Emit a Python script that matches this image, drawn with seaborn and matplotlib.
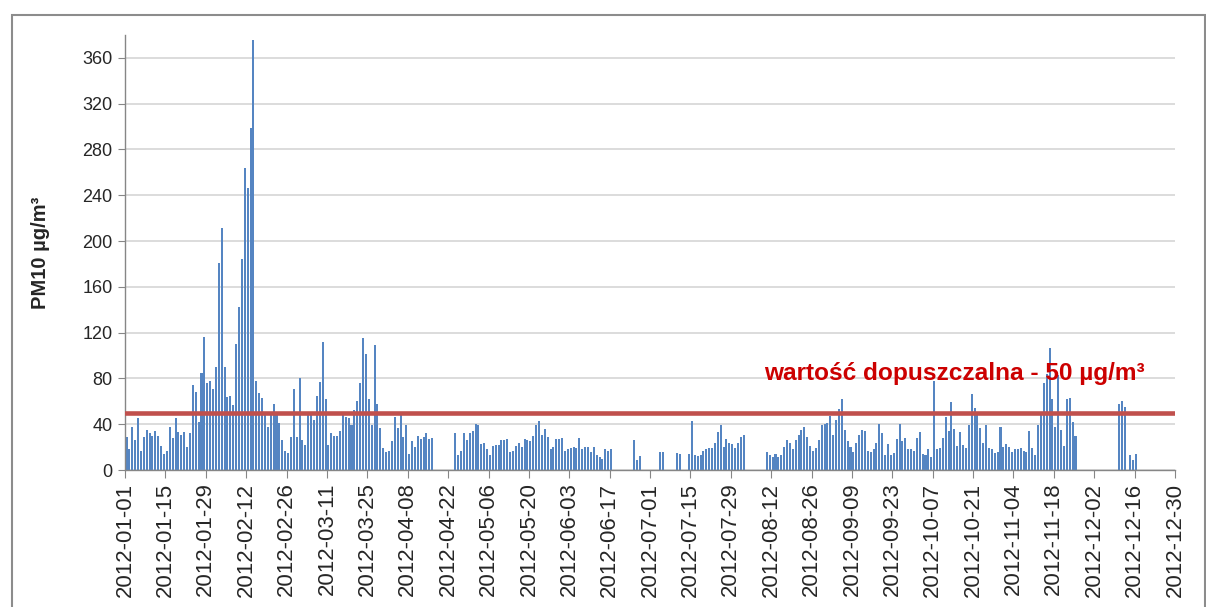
import numpy as np
import pandas as pd
import matplotlib
matplotlib.use("Agg")
import matplotlib.pyplot as plt
import seaborn as sns
from matplotlib.patches import Rectangle

N = None

# daily PM10 values [ug/m3], 2012, None = no measurement
jan = [29, 18, 38, 26, 45, 17, 29, 35, 32, 30, 34, 30, 21, 14, 17, 38, 28, 45, 33, 31,
       33, 20, 32, 74, 68, 42, 85, 116, 76, 78, 71]
feb = [90, 181, 211, 90, 64, 65, 57, 110, 142, 184, 264, 246, 299, 376, 78, 67, 63, 50, 38, 48,
       58, 48, 41, 26, 17, 15, 29, 71, 29]
mar = [80, 26, 22, 48, 48, 44, 65, 77, 112, 62, 22, 32, 30, 30, 34, 48, 46, 45, 39, 52,
       60, 76, 115, 101, 62, 39, 109, 58, 37, 19, 16]
apr = [17, 25, 46, 37, 48, 29, 39, 14, 25, 20, 30, 27, 29, 32, 27, 28, N, N, N, N,
       N, N, N, 32, 13, 17, 32, 26, 32, 34]
may = [40, 39, 23, 24, 18, 13, 21, 22, 22, 26, 26, 27, 16, 17, 21, 24, 20, 27, 26, 25,
       30, 39, 43, 31, 36, 29, 18, 20, 27, 27, 28]
jun = [17, 18, 19, 20, 19, 28, 18, 20, 20, 16, 20, 13, 11, 10, 18, 17, 18, N, N, N,
       N, N, N, N, 26, 9, 12, N, N, N]
jul = [N, N, N, 16, 16, N, N, N, N, 15, 14, N, N, 14, 43, 13, 12, 13, 17, 18,
       19, 19, 24, 33, 39, 20, 27, 24, 23, 19, 24]
aug = [29, 31, N, N, N, N, N, N, N, 16, 13, 11, 14, 11, 13, 20, 26, 24, 18, 26,
       31, 35, 38, 29, 21, 17, 19, 26, 39, 40, 41]
sep = [47, 31, 44, 53, 62, 35, 25, 20, 16, 24, 31, 35, 34, 17, 16, 18, 24, 40, 32, 13,
       23, 13, 15, 27, 40, 25, 28, 18, 18, 17]
oct_ = [28, 33, 14, 13, 18, 11, 78, 18, 19, 28, 46, 34, 59, 36, 21, 33, 22, 19, 39, 66,
        54, 48, 37, 24, 39, 19, 18, 15, 16, 38, 20]
nov = [23, 20, 16, 18, 18, 19, 17, 16, 34, 19, 13, 39, 48, 76, 84, 107, 62, 38, 83, 35,
       21, 62, 63, 42, 30, N, N, N, N, N]
dec = [N, N, N, N, N, N, N, N, N, 58, 60, 55, N, 13, 9, 14, N, N, N, N,
       N, N, N, N, N, N, N, N, N, N, N]

limit = 50
limit_label = "wartość dopuszczalna - 50 µg/m³"
y_label = "PM10 µg/m³"
tick_labels = pd.date_range("2012-01-01", "2012-12-30", freq="14D").strftime("%Y-%m-%d")

pm10 = jan + feb + mar + apr + may + jun + jul + aug + sep + oct_ + nov + dec
df = pd.DataFrame({
    "day": np.arange(len(pm10)) + 0.5,
    "pm10": [np.nan if v is None else v for v in pm10],
})

sns.set_style("white")
plt.rcParams["font.family"] = ["Liberation Sans", "DejaVu Sans"]

fig = plt.figure(figsize=(12.06, 6.07), dpi=100)
ax = fig.add_axes([0.1037, 0.2257, 0.8706, 0.7166])

sns.barplot(data=df, x="day", y="pm10", native_scale=True, width=0.7,
            color="#5585C2", saturation=1, errorbar=None, linewidth=0, ax=ax)

ax.axhline(limit, color="#C0504D", lw=3.3, zorder=4)
ax.text(221.5, 79, limit_label, color="#CC0000", fontsize=17.6, fontweight="bold",
        va="baseline", ha="left", zorder=5)

ax.set_ylim(0, 380)
ax.set_yticks(range(0, 361, 40))
ax.set_xlim(0, 364)
ax.set_xticks(np.arange(0, 365, 14))
ax.set_xticklabels(tick_labels, rotation=90)

ax.yaxis.grid(True, color="#D9D9D9", lw=1.3)
ax.xaxis.grid(False)
ax.set_axisbelow(True)

for side in ["top", "right"]:
    ax.spines[side].set_visible(False)
for side in ["left", "bottom"]:
    ax.spines[side].set_color("#868686")
    ax.spines[side].set_linewidth(1)

ax.tick_params(axis="x", length=6, color="#868686", labelsize=16, pad=3, direction="out", bottom=True)
ax.tick_params(axis="y", length=5, color="#868686", labelsize=13, pad=4, direction="out", left=True)

ax.set_xlabel("")
ax.set_ylabel(y_label, fontsize=14.5, fontweight="bold")
ax.yaxis.set_label_coords(-0.0714, 0.5)

# chart area border
fig.add_artist(Rectangle((12 / 1206, -0.1), 1193 / 1206, 1.1 - 15 / 607,
                         transform=fig.transFigure, fill=False, edgecolor="#8C8C8C", lw=1.5))

fig.savefig("out.png", dpi=100)
